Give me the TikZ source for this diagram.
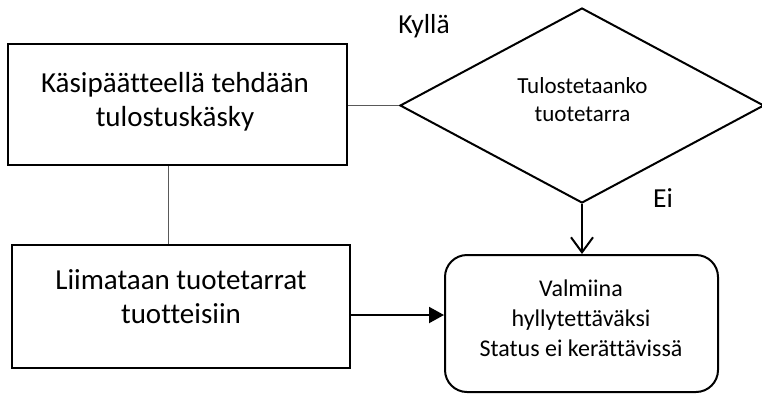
\documentclass[tikz,border=0pt]{standalone}
\usepackage{fontspec}
\setmainfont[Ligatures=NoCommon]{Carlito}
\usetikzlibrary{shapes.geometric,arrows.meta,calc}
\begin{document}
\begin{tikzpicture}[x=1pt,y=-1pt,
  frame/.style={draw=black, line width=2pt, inner sep=0pt},
  bigtext/.style={font=\fontsize{29}{34}\selectfont, align=center, inner sep=0pt},
  midtext/.style={font=\fontsize{23}{28}\selectfont, align=center, inner sep=0pt},
  endtext/.style={font=\fontsize{24}{30}\selectfont, align=center, inner sep=0pt},
  answer/.style={font=\fontsize{27.5}{30}\selectfont, inner sep=0pt, anchor=base},
  link/.style={draw=black!65, line width=1pt},
  flow/.style={draw=black, line width=2pt}]
\useasboundingbox (0,0) rectangle (762,394);

% process steps
\node[frame, minimum width=339pt, minimum height=121pt] (b1) at (177.5,104.5) {};
\node[bigtext] (t1) at (175,102) {Käsipäätteellä tehdään\\tulostuskäsky};

\node[frame, minimum width=338pt, minimum height=123pt] (b2) at (181,306.5) {};
\node[bigtext] (t2) at (181,296.5) {Liimataan tuotetarrat\\tuotteisiin};

% decision
\node[frame, diamond, minimum width=364pt, minimum height=195pt] (q) at (582,105.5) {};
\node[midtext] (qt) at (582.5,100) {Tulostetaanko\\tuotetarra};

% end state
\node[frame, rounded corners=22pt, minimum width=273pt, minimum height=137pt] (r) at (581.5,323.5) {};
\node[endtext] (rt) at (581,318.5) {Valmiina\\hyllytettäväksi\\Status ei kerättävissä};

% answer labels
\node[answer] (yes) at (424,33) {Kyllä};
\node[answer] (no) at (663,207) {Ei};

% connectors
\draw[link] ([xshift=-9.5pt]b1.south) -- ([xshift=-9.5pt]b1.south |- b2.north);
\draw[link] (q.west -| b1.east) -- (q.west);
\draw[flow, -{Straight Barb[length=15pt,width=22pt,line width=2pt]}] (q.south) -- (q.south |- r.north);
\coordinate (m) at ([yshift=-8.5pt]b2.east);
\draw[flow, -{Triangle[length=15pt,width=16pt]}] (m) -- (m -| r.west);
\end{tikzpicture}
\end{document}
